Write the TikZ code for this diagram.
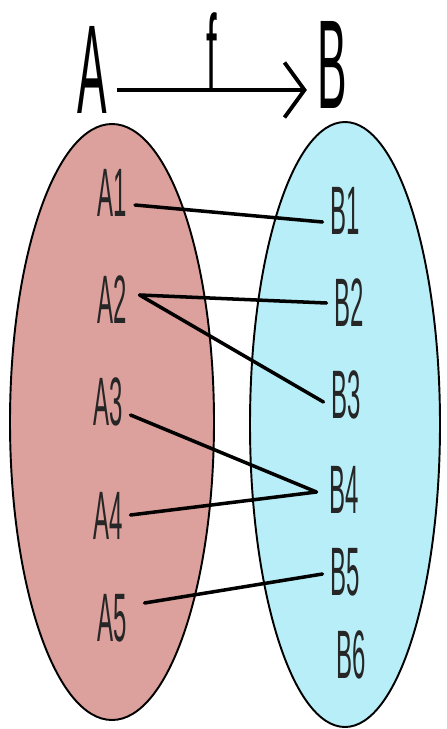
\documentclass[tikz,border=0pt]{standalone}
\usepackage{fontspec}
\usepackage{tikz}
\usetikzlibrary{arrows.meta,shapes.geometric}
\usepackage{xcolor}
\newfontfamily\lblfont[FakeStretch=0.35]{Liberation Sans}
\definecolor{setApink}{HTML}{DCA19C}
\definecolor{setBcyan}{HTML}{B8EEF8}

\begin{document}
\begin{tikzpicture}[
  >={Straight Barb[length=4mm,width=11mm]},
  setbox/.style={draw, ellipse, line width=1.1pt, inner sep=0pt},
  elem/.style={font=\lblfont\fontsize{39}{46}\selectfont, text=black!85, inner sep=1.5mm},
  big/.style={font=\lblfont\fontsize{72}{86}\selectfont, inner sep=0pt},
  maps/.style={line width=2pt, line cap=round}
]
  \useasboundingbox (0,0) rectangle (8.92,-14.58);

  % the two sets
  \node[setbox, fill=setApink, minimum width=4.08cm, minimum height=11.92cm] (setAbox) at (2.24,-8.44) {};
  \node[setbox, fill=setBcyan, minimum width=3.8cm, minimum height=12.1cm] (setBbox) at (6.9,-8.49) {};

  % titles and the arrow f
  \node[big] (setA) at (1.84,-1.40) {A};
  \node[big] (setB) at (6.64,-1.30) {B};
  \draw[->, line width=2.2pt] ([xshift=2mm,yshift=-4mm]setA.east)
    -- node[big, font=\lblfont\fontsize{62}{74}\selectfont, midway, above, inner sep=0pt, yshift=-0.6mm] (fname) {f}
    ([xshift=-2mm,yshift=-4mm]setA.east -| setB.west);

  % elements of A
  \node[elem] (a1) at (2.25,-3.86) {A1};
  \node[elem] (a2) at (2.24,-6.00) {A2};
  \node[elem] (a3) at (2.16,-8.04) {A3};
  \node[elem] (a4) at (2.16,-10.32) {A4};
  \node[elem] (a5) at (2.24,-12.36) {A5};

  % elements of B
  \node[elem] (b1) at (6.90,-4.22) {B1};
  \node[elem] (b2) at (6.98,-6.06) {B2};
  \node[elem] (b3) at (6.92,-7.90) {B3};
  \node[elem] (b4) at (6.88,-9.80) {B4};
  \node[elem] (b5) at (6.90,-11.44) {B5};
  \node[elem] (b6) at (7.02,-13.10) {B6};

  \draw[maps] ([yshift=-2.4mm]a1.east) -- ([yshift=-2.2mm]b1.west);
  \draw[maps] ([xshift=1mm,yshift=1mm]a2.east) -- (b2.west);
  \draw[maps] ([xshift=1mm,yshift=1mm]a2.east) -- ([yshift=-1.4mm]b3.west);
  \draw[maps] ([yshift=-2.6mm]a3.east) -- ([xshift=-1mm,yshift=-0.4mm]b4.west);
  \draw[maps] ([yshift=0.2mm]a4.east) -- ([xshift=-1mm,yshift=-0.4mm]b4.west);
  \draw[maps] ([xshift=2mm,yshift=3mm]a5.east) -- ([yshift=-0.4mm]b5.west);
\end{tikzpicture}
\end{document}
